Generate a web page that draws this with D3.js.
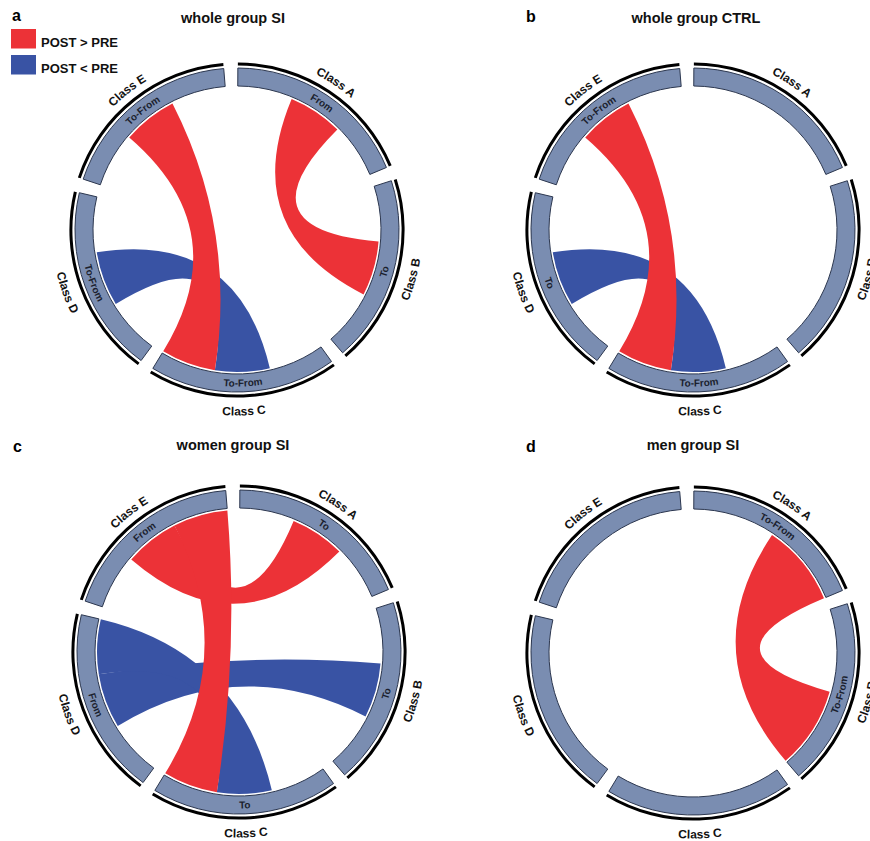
<!DOCTYPE html>
<html>
<head>
<meta charset="utf-8">
<script src="https://cdn.jsdelivr.net/npm/d3@7"></script>
<style>
  body { margin: 0; background: #fff; }
  svg { display: block; }
  text { font-family: "Liberation Sans", Arial, Helvetica, sans-serif; font-weight: bold; }
</style>
</head>
<body>
<svg id="chart" width="870" height="841"></svg>
<script>
// ---- data -------------------------------------------------------------
const sectors = ["Class A", "Class B", "Class C", "Class D", "Class E"];
const slotCount = 3; // each sector axis runs 0..3 link units

const panelLetters = ["a", "b", "c", "d"];
const panelTitles = ["whole group SI", "whole group CTRL", "women group SI", "men group SI"];

const changeKeys = ["up", "down"];
const changeLabels = ["POST > PRE", "POST < PRE"];
const changeColors = ["#ec3237", "#3953a4"];

// links: [from sector, from start, from end, to sector, to start, to end, change]
const linksWholeSI = [
  ["Class D", 1, 2, "Class C", 1, 2, "down"],
  ["Class A", 1, 2, "Class B", 1, 2, "up"],
  ["Class E", 1, 2, "Class C", 2, 3, "up"]
];
const linksWholeCTRL = [
  ["Class C", 1, 2, "Class D", 1, 2, "down"],
  ["Class E", 1, 2, "Class C", 2, 3, "up"]
];
const linksWomenSI = [
  ["Class D", 1, 2, "Class B", 1, 2, "down"],
  ["Class D", 2, 3, "Class C", 1, 2, "down"],
  ["Class E", 1, 2, "Class A", 1, 2, "up"],
  ["Class E", 2, 3, "Class C", 2, 3, "up"]
];
const linksMenSI = [
  ["Class A", 1.5, 3, "Class B", 1.5, 3, "up"]
];

// role written inside each sector band
const rolesWholeSI = [["Class A", "From"], ["Class B", "To"], ["Class C", "To-From"], ["Class D", "To-From"], ["Class E", "To-From"]];
const rolesWholeCTRL = [["Class C", "To-From"], ["Class D", "To"], ["Class E", "To-From"]];
const rolesWomenSI = [["Class A", "To"], ["Class B", "To"], ["Class C", "To"], ["Class D", "From"], ["Class E", "From"]];
const rolesMenSI = [["Class A", "To-From"], ["Class B", "To-From"]];

const panelLinks = [linksWholeSI, linksWholeCTRL, linksWomenSI, linksMenSI];
const panelRoles = [rolesWholeSI, rolesWholeCTRL, rolesWomenSI, rolesMenSI];

// ---- layout -----------------------------------------------------------
const layout = [
  { cx: 237, cy: 230, letterX: 12, letterY: 21, titleX: 233, titleY: 23 },
  { cx: 693, cy: 230, letterX: 526, letterY: 21.5, titleX: 696, titleY: 23 },
  { cx: 239, cy: 652, letterX: 13, letterY: 452, titleX: 233, titleY: 450 },
  { cx: 693, cy: 653, letterX: 526, letterY: 452, titleX: 693, titleY: 450 }
];

const deg = Math.PI / 180;
const R = {
  link: 142,
  bandIn: 144,
  bandOut: 162,
  ringIn: 164.6,
  ringOut: 167.6,
  roleUp: 149.6,
  roleDown: 156.6,
  nameUp: 174.5,
  nameDown: 185.5
};
const gapDeg = 5;

// sector placement around the circle (angles clockwise from 12 o'clock)
const sectorScale = d3.scaleBand()
  .domain(sectors)
  .range([-2.2 * deg, 357.8 * deg])
  .paddingInner(gapDeg / 72)
  .paddingOuter(gapDeg / 144);

const slotScale = {};
sectors.forEach(s => {
  const a0 = sectorScale(s);
  slotScale[s] = d3.scaleLinear().domain([0, slotCount]).range([a0, a0 + sectorScale.bandwidth()]);
});
const colorScale = d3.scaleOrdinal().domain(changeKeys).range(changeColors);

const svg = d3.select("#chart");
const defs = svg.append("defs");

const bandArc = d3.arc().innerRadius(R.bandIn).outerRadius(R.bandOut);
const ringArc = d3.arc().innerRadius(R.ringIn).outerRadius(R.ringOut);
const ribbon = d3.ribbon().radius(R.link);

function centerAngle(s) {
  return sectorScale(s) + sectorScale.bandwidth() / 2;
}
function isFlipped(theta) {
  const t = ((theta % (2 * Math.PI)) + 2 * Math.PI) % (2 * Math.PI);
  return t > Math.PI / 2 && t < 3 * Math.PI / 2;
}
// arc path for text: clockwise on the upper half, counter-clockwise on the lower half
function textArc(theta, r, flip) {
  const span = 80 * deg;
  const a0 = flip ? theta + span : theta - span;
  const a1 = flip ? theta - span : theta + span;
  const pt = a => [r * Math.sin(a), -r * Math.cos(a)];
  const [x0, y0] = pt(a0);
  const [x1, y1] = pt(a1);
  return `M${x0},${y0}A${r},${r} 0 0 ${flip ? 0 : 1} ${x1},${y1}`;
}

layout.forEach((L, pi) => {
  const g = svg.append("g").attr("transform", `translate(${L.cx},${L.cy})`);

  // outer black rings
  g.selectAll("path.ring")
    .data(sectors)
    .join("path")
    .attr("class", "ring")
    .attr("d", s => ringArc({ startAngle: sectorScale(s), endAngle: sectorScale(s) + sectorScale.bandwidth() }))
    .attr("fill", "#000");

  // sector bands
  g.selectAll("path.band")
    .data(sectors)
    .join("path")
    .attr("class", "band")
    .attr("d", s => bandArc({ startAngle: sectorScale(s), endAngle: sectorScale(s) + sectorScale.bandwidth() }))
    .attr("fill", "#7a8db1")
    .attr("stroke", "#2c374f")
    .attr("stroke-width", 1);

  // links: decreases underneath, increases on top
  const links = panelLinks[pi].slice().sort((a, b) => changeKeys.indexOf(b[6]) - changeKeys.indexOf(a[6]));
  g.selectAll("path.link")
    .data(links)
    .join("path")
    .attr("class", "link")
    .attr("d", d => ribbon({
      source: { startAngle: slotScale[d[0]](d[1]), endAngle: slotScale[d[0]](d[2]) },
      target: { startAngle: slotScale[d[3]](d[4]), endAngle: slotScale[d[3]](d[5]) }
    }))
    .attr("fill", d => colorScale(d[6]));

  // sector names outside the black ring
  sectors.forEach((s, si) => {
    const th = centerAngle(s);
    const flip = isFlipped(th);
    const id = `name-${pi}-${si}`;
    defs.append("path").attr("id", id).attr("d", textArc(th, flip ? R.nameDown : R.nameUp, flip));
    g.append("text")
      .attr("font-size", 12)
      .attr("fill", "#111")
      .append("textPath")
      .attr("href", `#${id}`)
      .attr("startOffset", "50%")
      .attr("text-anchor", "middle")
      .text(s);
  });

  // roles inside the bands
  panelRoles[pi].forEach(([s, role], ri) => {
    const th = centerAngle(s);
    const flip = isFlipped(th);
    const id = `role-${pi}-${ri}`;
    defs.append("path").attr("id", id).attr("d", textArc(th, flip ? R.roleDown : R.roleUp, flip));
    g.append("text")
      .attr("font-size", 10)
      .attr("fill", "#1b1f2e")
      .append("textPath")
      .attr("href", `#${id}`)
      .attr("startOffset", "50%")
      .attr("text-anchor", "middle")
      .text(role);
  });

  // panel letter and title
  svg.append("text")
    .attr("x", L.letterX).attr("y", L.letterY)
    .attr("font-size", 16).attr("fill", "#000")
    .text(panelLetters[pi]);
  svg.append("text")
    .attr("x", L.titleX).attr("y", L.titleY)
    .attr("text-anchor", "middle")
    .attr("font-size", 14.5).attr("fill", "#111")
    .text(panelTitles[pi]);
});

// legend
const legend = svg.append("g").attr("transform", "translate(11,29)");
const lg = legend.selectAll("g")
  .data(changeKeys)
  .join("g")
  .attr("transform", (d, i) => `translate(0,${i * 26})`);
lg.append("rect")
  .attr("width", 25).attr("height", 19.5)
  .attr("fill", d => colorScale(d));
lg.append("text")
  .attr("x", 30).attr("y", 17.5)
  .attr("font-size", 13).attr("fill", "#111")
  .text((d, i) => changeLabels[i]);
</script>
</body>
</html>
